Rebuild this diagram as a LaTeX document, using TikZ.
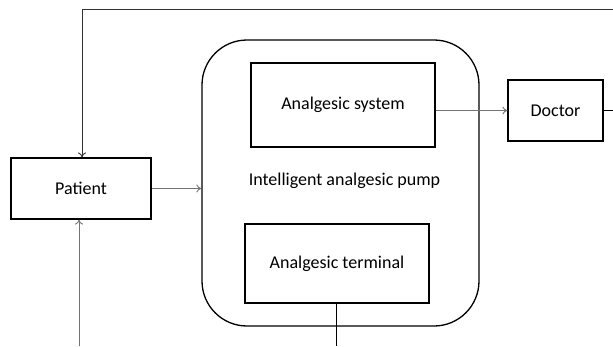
\documentclass[tikz,border=0pt]{standalone}
\usepackage{fontspec}
\setmainfont{Carlito}
\usetikzlibrary{arrows.meta}
\begin{document}
\begin{tikzpicture}[x=1pt,y=-1pt,
  blockbox/.style={draw=black,line width=1.2pt,rectangle,inner sep=0pt,font=\fontsize{18}{21}\selectfont},
  pumpbox/.style={draw=black,line width=1.3pt,rectangle,rounded corners=45pt,inner sep=0pt},
  arr/.style={draw=black!55,line width=0.9pt,-{To[length=5pt,width=8pt]}},
  plain/.style={draw=black,line width=0.9pt},
  loopline/.style={draw=black!80,line width=0.9pt}]
\useasboundingbox (0,0) rectangle (613,346);
\fill[white] (0,0) rectangle (613,346);
\node[pumpbox,minimum width=277pt,minimum height=286pt] (pump) at (340.5,183) {};
\node[font=\fontsize{18}{21}\selectfont] (pumplabel) at (344.5,181) {Intelligent analgesic pump};
\node[blockbox,minimum width=184pt,minimum height=84pt] (system) at (343,105) {Analgesic system};
\node[blockbox,minimum width=184pt,minimum height=79pt] (terminal) at (337,263.5) {Analgesic terminal};
\node[blockbox,minimum width=140pt,minimum height=61pt] (patient) at (81,188.5) {Patient};
\node[blockbox,minimum width=95pt,minimum height=61pt] (doctor) at (555.5,110.5) {Doctor};
\coordinate (docout) at (613,110.5);
\coordinate (topright) at (613,9);
\coordinate (topleft) at (82,9);
\coordinate (botin) at (79,346);
\coordinate (termout) at (336,346);
\draw[arr] (patient.east) -- (patient.east -| pump.west);
\draw[arr] (system.east |- doctor.west) -- (doctor.west);
\draw[plain] (doctor.east) -- (docout);
\draw[loopline] (topright) -- (topleft);
\draw[arr,draw=black!80] (topleft) -- (topleft |- patient.north);
\draw[arr] (botin) -- (botin |- patient.south);
\draw[plain] (terminal.south -| termout) -- (termout);
\end{tikzpicture}
\end{document}
